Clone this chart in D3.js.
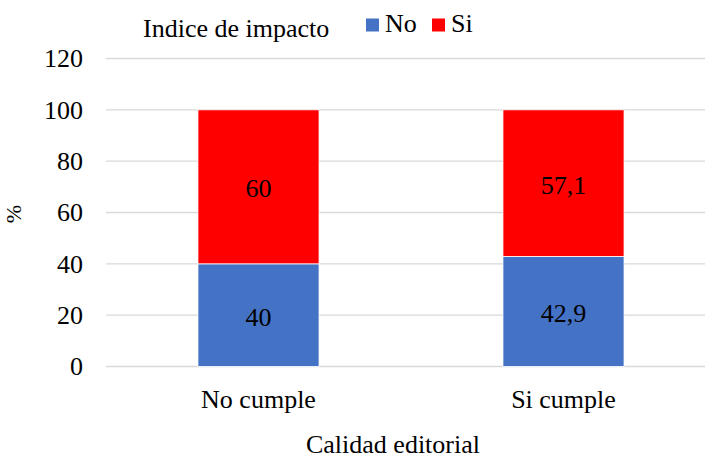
<!DOCTYPE html>
<html>
<head>
<meta charset="utf-8">
<script src="https://cdn.jsdelivr.net/npm/d3@7/dist/d3.min.js"></script>
<style>
  body { margin: 0; background: #fff; }
</style>
</head>
<body>
<div id="chart"></div>
<script>
// data
var categories = ["No cumple", "Si cumple"];
var seriesNames = ["No", "Si"];
var valuesNo = [40, 42.9];
var valuesSi = [60, 57.1];
var yTicks = [0, 20, 40, 60, 80, 100, 120];
var colors = ["#4472C4", "#FF0000"];

const FONT = "Liberation Serif, Times New Roman, Times, serif";
const FS = 26;
const width = 705, height = 459;
const margin = {top: 58.5, right: 0, bottom: 92.5, left: 106};
const plotW = width - margin.left - margin.right;
const plotH = height - margin.top - margin.bottom;

var svg = d3.select("#chart").append("svg")
    .attr("width", width).attr("height", height)
    .attr("font-family", FONT);

var g = svg.append("g")
    .attr("transform", `translate(${margin.left}, ${margin.top})`);

// scales
var x = d3.scaleBand().domain(categories).range([0, 610]).paddingInner(0.603).paddingOuter(0.3015);
var y = d3.scaleLinear().domain([0, 120]).range([plotH, 0]);

// gridlines
g.selectAll(".grid")
    .data(yTicks)
    .enter()
    .append("line")
    .attr("x1", 0).attr("x2", plotW)
    .attr("y1", function(d){ return y(d); })
    .attr("y2", function(d){ return y(d); })
    .attr("stroke", "#d9d9d9")
    .attr("stroke-width", 1.3);

// y tick labels
var yaxis = d3.axisLeft(y).tickValues(yTicks).tickSize(0).tickPadding(23);
var ya = g.append("g").call(yaxis).attr("font-family", FONT).attr("font-size", FS);
ya.select(".domain").remove();

// stacked data
var stackData = categories.map(function(c, i){ return {cat: c, No: valuesNo[i], Si: valuesSi[i]}; });
var stack = d3.stack().keys(seriesNames)(stackData);

var layers = g.selectAll(".layer")
    .data(stack)
    .enter()
    .append("g")
    .attr("fill", function(d, i){ return colors[i]; });

layers.selectAll("rect")
    .data(function(d){ return d; })
    .enter()
    .append("rect")
    .attr("x", function(d){ return x(d.data.cat); })
    .attr("width", x.bandwidth())
    .attr("y", function(d){ return y(d[1]); })
    .attr("height", function(d){ return y(d[0]) - y(d[1]); })
    .attr("stroke", "#ffffff")
    .attr("stroke-width", 0.8);

// value labels
layers.selectAll("text")
    .data(function(d){ return d.map(function(p){ return {p: p, key: d.key}; }); })
    .enter()
    .append("text")
    .attr("x", function(d){ return x(d.p.data.cat) + x.bandwidth() / 2; })
    .attr("y", function(d){ return (y(d.p[0]) + y(d.p[1])) / 2; })
    .attr("dy", "0.4em")
    .attr("text-anchor", "middle")
    .attr("fill", "#000")
    .attr("font-size", FS)
    .text(function(d){ return String(d.p.data[d.key]).replace(".", ","); });

// x category labels
var xaxis = d3.axisBottom(x).tickSize(0).tickPadding(22);
var xa = g.append("g").attr("transform", `translate(0, ${plotH})`).call(xaxis)
    .attr("font-family", FONT).attr("font-size", FS);
xa.select(".domain").remove();
xa.selectAll("text").attr("dy", null).attr("y", 41);

// axis titles
svg.append("text")
    .attr("x", 393).attr("y", 453)
    .attr("text-anchor", "middle")
    .attr("font-size", FS)
    .text("Calidad editorial");

svg.append("text")
    .attr("transform", "translate(21, 214) rotate(-90)")
    .attr("text-anchor", "middle")
    .attr("font-size", 22)
    .text("%");

// legend
svg.append("text")
    .attr("x", 143).attr("y", 37)
    .attr("font-size", FS)
    .text("Indice de impacto");

var legend = svg.selectAll(".legend")
    .data(seriesNames)
    .enter()
    .append("g")
    .attr("transform", function(d, i){ return `translate(${[366, 432][i]}, 0)`; });

legend.append("rect")
    .attr("x", 0).attr("y", 18.5)
    .attr("width", 13).attr("height", 13)
    .attr("fill", function(d, i){ return colors[i]; });

legend.append("text")
    .attr("x", 19).attr("y", 32)
    .attr("font-size", FS)
    .text(function(d){ return d; });
</script>
</body>
</html>
